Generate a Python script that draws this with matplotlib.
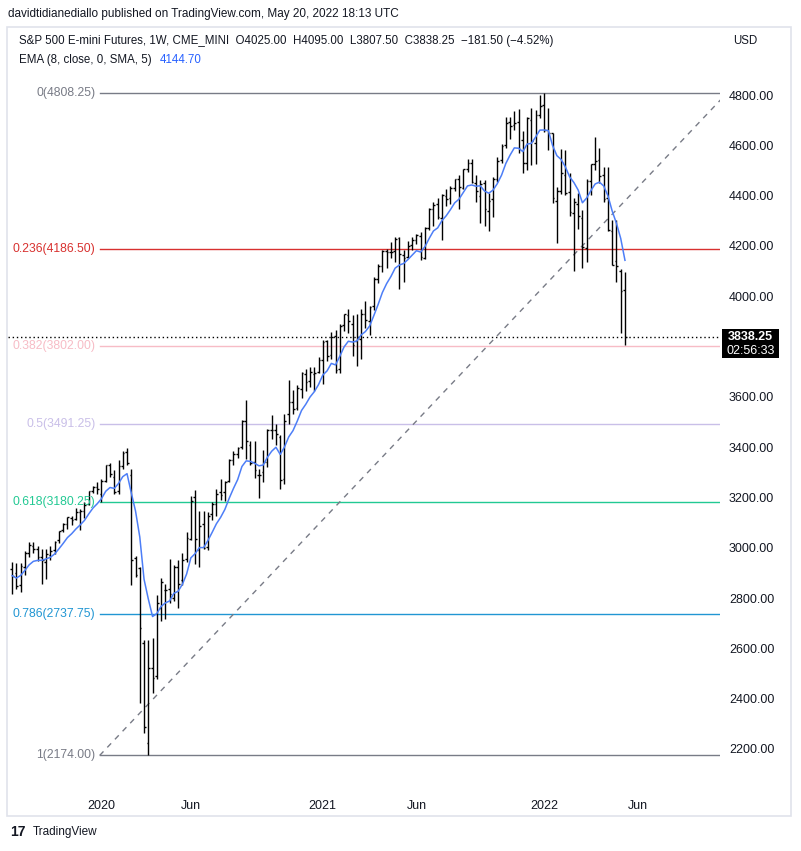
import numpy as np
import pandas as pd
import matplotlib
matplotlib.use('Agg')
import matplotlib.pyplot as plt
import matplotlib.dates as mdates
from matplotlib.patches import Rectangle

plt.rcParams['font.family'] = ['Liberation Sans', 'DejaVu Sans']

# Weekly OHLC, S&P 500 E-mini futures, first bar week of 2019-08-12
first_week = '2019-08-12'
opens = [2915, 2900, 2850, 2925, 2980, 3005, 2995, 2965, 2945, 2970, 2990, 3030, 3070, 3093, 3120, 3115, 3143, 3146, 3175, 3225, 3242,
         3215, 3266, 3327, 3280, 3225, 3323, 3380, 3290, 2959, 2919, 2620, 2224, 2522, 2490, 2760, 2830, 2835, 2800, 2925, 2870, 2955,
         3035, 3200, 2990, 3095, 3004, 3135, 3175, 3220, 3220, 3265, 3350, 3372, 3400, 3505, 3410, 3340, 3290, 3300, 3340, 3470, 3470,
         3440, 3275, 3530, 3580, 3555, 3630, 3690, 3664, 3690, 3700,
         3745, 3820, 3765, 3840, 3710, 3885, 3925, 3890, 3820, 3830, 3930, 3900, 3960, 4068, 4120, 4180, 4175, 4180, 4230, 4165, 4155,
         4204, 4225, 4240, 4150, 4270, 4345, 4365, 4310, 4400, 4392, 4430, 4466, 4430, 4505, 4530, 4450, 4400, 4450, 4340, 4385, 4465,
         4540, 4600, 4692, 4680, 4692, 4620, 4530, 4700, 4610, 4720,
         4760, 4662, 4650, 4380, 4420, 4480, 4415, 4330, 4366, 4310, 4190, 4460, 4525, 4540, 4480, 4390, 4260, 4140, 4100, 4025]
highs = [2943, 2940, 2940, 2985, 3022, 3022, 3008, 2993, 2993, 3008, 3027, 3067, 3097, 3123, 3128, 3157, 3155, 3183, 3227, 3247, 3260,
         3275, 3330, 3337, 3311, 3347, 3385, 3397, 3313, 2968, 2925, 2633, 2633, 2640, 2812, 2880, 2855, 2955, 2933, 2950, 2980, 3063,
         3206, 3231, 3146, 3145, 3142, 3182, 3232, 3275, 3265, 3352, 3385, 3399, 3509, 3587, 3425, 3425, 3313, 3390, 3472, 3527, 3492,
         3450, 3531, 3668, 3628, 3645, 3697, 3712, 3718, 3718, 3760,
         3826, 3825, 3859, 3866, 3889, 3930, 3950, 3927, 3931, 3948, 3982, 3960, 4075, 4128, 4183, 4189, 4216, 4234, 4236, 4182, 4218,
         4237, 4247, 4254, 4274, 4350, 4374, 4391, 4406, 4425, 4437, 4467, 4480, 4507, 4545, 4545, 4482, 4463, 4464, 4412, 4474, 4552,
         4604, 4714, 4712, 4738, 4745, 4658, 4713, 4749, 4740, 4799,
         4808.25, 4748, 4650, 4433, 4586, 4583, 4489, 4390, 4412, 4343, 4466, 4527, 4632, 4590, 4515, 4512, 4304, 4303, 4110, 4095]
lows = [2817, 2834, 2822, 2891, 2962, 2978, 2946, 2856, 2876, 2950, 2976, 3017, 3063, 3075, 3089, 3110, 3070, 3120, 3170, 3219, 3212,
        3182, 3260, 3280, 3212, 3214, 3312, 3328, 2852, 2885, 2383, 2263, 2174, 2423, 2480, 2710, 2717, 2780, 2790, 2760, 2850, 2942,
        3030, 2936, 2925, 2993, 2990, 3112, 3125, 3189, 3185, 3262, 3330, 3355, 3393, 3354, 3328, 3276, 3197, 3263, 3322, 3434, 3410,
        3233, 3254, 3490, 3530, 3547, 3594, 3623, 3638, 3622, 3694,
        3652, 3743, 3750, 3694, 3693, 3862, 3852, 3764, 3723, 3751, 3872, 3845, 3945, 4054, 4096, 4112, 4153, 4137, 4029, 4055, 4150,
        4183, 4208, 4143, 4146, 4264, 4280, 4308, 4224, 4360, 4365, 4418, 4347, 4425, 4495, 4450, 4375, 4292, 4278, 4261, 4315, 4453,
        4528, 4591, 4626, 4662, 4570, 4491, 4503, 4522, 4524, 4710,
        4652, 4582, 4372, 4212, 4406, 4402, 4320, 4101, 4266, 4114, 4135, 4403, 4503, 4450, 4374, 4260, 4123, 4057, 3855, 3807.5]
closes = [2889, 2846, 2926, 2980, 3009, 2995, 2963, 2951, 2975, 2985, 3022, 3066, 3093, 3121, 3110, 3141, 3147, 3171, 3224, 3240, 3235,
          3266, 3327, 3292, 3223, 3324, 3378, 3336, 2951, 2892, 2681, 2287, 2522, 2482, 2780, 2865, 2830, 2815, 2925, 2855, 2950, 3040,
          3185, 3035, 3085, 3000, 3126, 3175, 3215, 3211, 3263, 3349, 3372, 3396, 3505, 3424, 3335, 3310, 3290, 3340, 3470, 3467, 3454,
          3270, 3505, 3581, 3553, 3636, 3693, 3657, 3700, 3694, 3748,
          3819, 3761, 3837, 3706, 3882, 3928, 3900, 3806, 3837, 3930, 3906, 3959, 4070, 4121, 4181, 4174, 4176, 4229, 4167, 4152, 4200,
          4225, 4243, 4156, 4272, 4345, 4363, 4315, 4402, 4387, 4430, 4466, 4436, 4506, 4530, 4455, 4420, 4445, 4345, 4380, 4465, 4537,
          4599, 4690, 4678, 4690, 4584, 4528, 4709, 4618, 4720, 4758,
          4662, 4650, 4389, 4420, 4490, 4411, 4336, 4373, 4318, 4194, 4457, 4524, 4538, 4479, 4385, 4263, 4125, 4119, 4020, 3838.25]

# Fibonacci retracement drawn from the 2020 low to the 2022 high
fib_ratios = [0, 0.236, 0.382, 0.5, 0.618, 0.786, 1]
fib_prices = [4808.25, 4186.50, 3802.00, 3491.25, 3180.25, 2737.75, 2174.00]
fib_colors = ['#787b86', '#d8312f', '#f7bcc6', '#c9bfe8', '#22c993', '#2196d3', '#787b86']
fib_start, fib_end = '2020-01-03', '2022-10-31'

last_price = 3838.25
tick_dates = ['2020-01-06', '2020-06-01', '2021-01-04', '2021-06-07', '2022-01-03', '2022-06-06']
tick_labels = ['2020', 'Jun', '2021', 'Jun', '2022', 'Jun']
price_ticks = [2200, 2400, 2600, 2800, 3000, 3200, 3400, 3600, 4000, 4200, 4400, 4600, 4800]

dates = pd.date_range(first_week, periods=len(closes), freq='W-MON')
x = mdates.date2num(dates)
ema = pd.Series(closes).ewm(span=8, adjust=False).mean()

W, H = 801, 851
fig = plt.figure(figsize=(W / 100, H / 100), dpi=100)


def fx(px):
    return px / W


def fy(py):
    return 1 - py / H


ax = fig.add_axes([fx(8), fy(790), fx(720) - fx(8), fy(28) - fy(790)])
for s in ax.spines.values():
    s.set_visible(False)

# OHLC bars
tick = 2.8
ax.vlines(x, lows, highs, color='black', lw=1.0, zorder=3)
ax.hlines(opens, x - tick, x, color='black', lw=1.0, zorder=3)
ax.hlines(closes, x, x + tick, color='black', lw=1.0, zorder=3)

ax.plot(x, ema, color='#4d7ef7', lw=1.1, zorder=4)

# fib levels
f0 = mdates.date2num(pd.Timestamp(fib_start))
f1 = mdates.date2num(pd.Timestamp(fib_end))
for r, p, c in zip(fib_ratios, fib_prices, fib_colors):
    ax.plot([f0, f1], [p, p], color=c, lw=1.0, zorder=2)
    ax.annotate(f'{r:g}({p:.2f})', (f0, p), xytext=(-3, 0), textcoords='offset points',
                ha='right', va='center', color=c, fontsize=8.7)
ax.plot([f0, f1], [fib_prices[-1], fib_prices[0]], color='#787b86', lw=1.0,
        ls=(0, (4, 4)), zorder=2)

ax.axhline(last_price, color='black', lw=1.0, ls=(0, (1, 2)), zorder=2)

anchor = mdates.date2num(pd.Timestamp('2020-03-23'))
px_day = 4.256 / 7
ax.set_xlim(anchor - (148.3 - 8) / px_day, anchor + (720 - 148.3) / px_day)
ax.set_ylim(2036.7, 5066.4)

ax.set_xticks(mdates.date2num(pd.to_datetime(tick_dates)))
ax.set_xticklabels(tick_labels)
ax.yaxis.tick_right()
ax.set_yticks(price_ticks)
ax.set_yticklabels([f'{v:.2f}' for v in price_ticks])
ax.tick_params(axis='both', length=0, labelsize=9, labelcolor='#131722')
ax.tick_params(axis='x', pad=7)
ax.tick_params(axis='y', pad=6.5)

# header texts
fig.text(fx(8), fy(14), 'davidtidianediallo published on TradingView.com, May 20, 2022 18:13 UTC',
         fontsize=8.5, color='#131722', va='center')
fig.text(fx(19), fy(41), 'S&P 500 E-mini Futures, 1W, CME_MINI  O4025.00  H4095.00  L3807.50  C3838.25  \u2212181.50 (\u22124.52%)',
         fontsize=8.3, color='#131722', va='center')
fig.text(fx(19), fy(60), 'EMA (8, close, 0, SMA, 5)', fontsize=8.3, color='#131722', va='center')
fig.text(fx(160), fy(60), '4144.70', fontsize=8.3, color='#2962ff', va='center')
fig.text(fx(733), fy(41), 'USD', fontsize=8.3, color='#131722', va='center')

# last price label
fig.patches.append(Rectangle((fx(722), fy(358)), fx(779) - fx(722), fy(329) - fy(358),
                             transform=fig.transFigure, facecolor='black', edgecolor='none', zorder=5))
fig.text(fx(750.5), fy(337), '3838.25', fontsize=9, color='white', fontweight='bold',
         ha='center', va='center', zorder=6)
fig.text(fx(750.5), fy(351), '02:56:33', fontsize=9, color='white', ha='center', va='center', zorder=6)

# frame and footer
fig.patches.append(Rectangle((fx(7), fy(816)), fx(791) - fx(7), fy(27) - fy(816),
                             transform=fig.transFigure, facecolor='none', edgecolor='#e0e3eb', lw=1.2))
fig.text(fx(10), fy(832), '17', fontsize=10, fontweight='bold', color='#131722', va='center')
fig.text(fx(33), fy(832), 'TradingView', fontsize=8.5, color='#131722', va='center')

fig.savefig('out.png', dpi=100, facecolor='white')
